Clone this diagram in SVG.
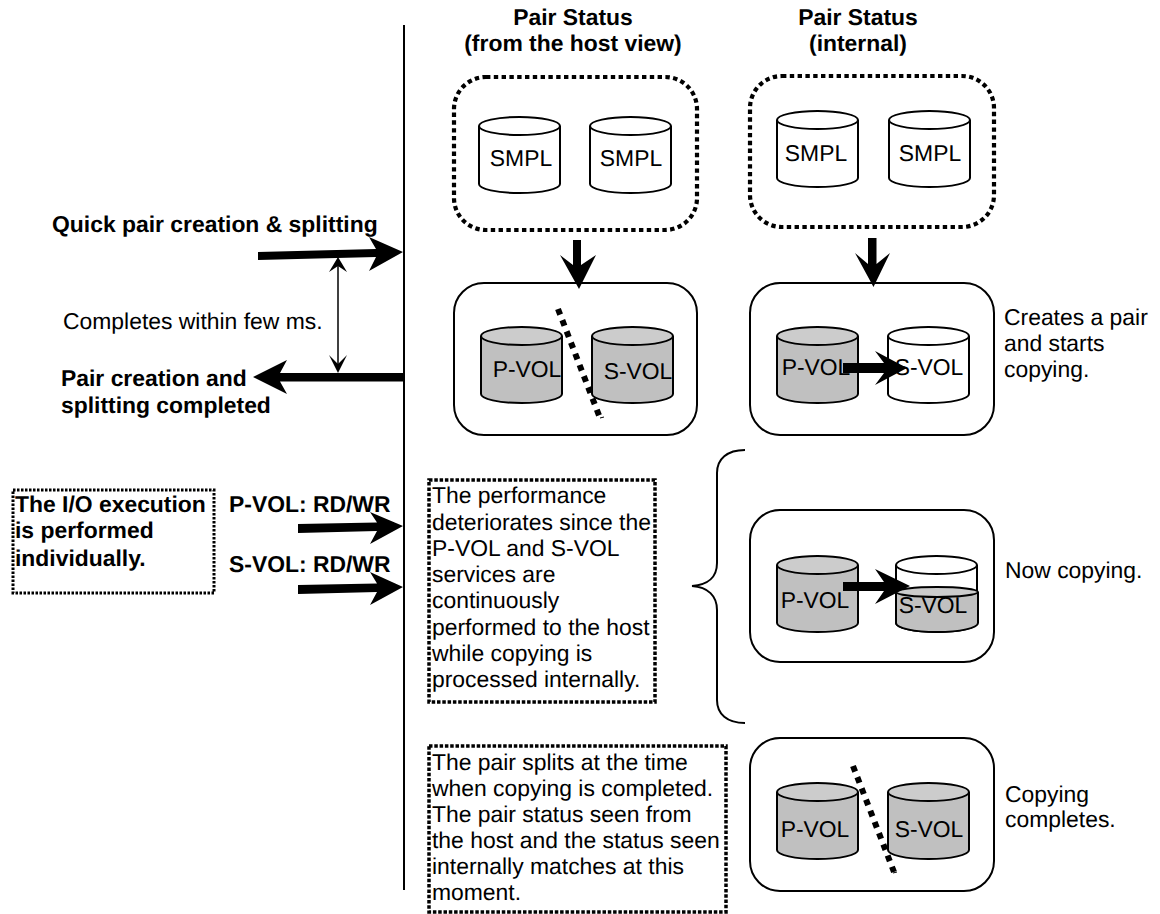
<svg xmlns="http://www.w3.org/2000/svg" width="1160" height="914" viewBox="0 0 1160 914">
<style>
text{font-family:"Liberation Sans",Arial,sans-serif;font-size:22.9px;fill:#000;text-rendering:geometricPrecision}
.b{font-weight:bold}
.m{text-anchor:middle}
.box{fill:#fff;stroke:#000;stroke-width:2}
.dot{fill:none;stroke:#000;stroke-width:4.200;stroke-dasharray:4.400 3.400}
.dot2{fill:none;stroke:#000;stroke-width:3.500;stroke-dasharray:3.500 1.800}
.dot3{fill:none;stroke:#000;stroke-width:3;stroke-dasharray:2.500 1.500}
.cut{fill:none;stroke:#000;stroke-width:6;stroke-dasharray:6 6}
.cyl{stroke:#000;stroke-width:2}
.w{fill:#fff}.g{fill:#c0c0c0}
.top{stroke:#000;stroke-width:2}
.ln{fill:none;stroke:#000;stroke-width:2}
</style>
<defs>
<g id="cw"><path class="cyl w" d="M0 9V67C0 72 18 76 40.500 76S81 72 81 67V9"/><ellipse class="top w" cx="40.500" cy="9" rx="40.500" ry="9"/></g>
<g id="cg"><path class="cyl g" d="M0 9V67C0 72 18 76 40.500 76S81 72 81 67V9"/><ellipse class="top" fill="#ccc" cx="40.500" cy="9" rx="40.500" ry="9"/></g>
</defs>
<g id="n1"><rect class="dot" x="454" y="77" width="243" height="153" rx="32"/>
<use href="#cw" x="479" y="117"/><use href="#cw" x="590" y="117"/>
<text class="m" x="521" y="166">SMPL</text><text class="m" x="631" y="166">SMPL</text></g>
<g id="n2"><rect class="dot" x="750" y="76" width="244" height="151" rx="32"/>
<use href="#cw" x="777" y="111"/><use href="#cw" x="889" y="111"/>
<text class="m" x="816" y="161">SMPL</text><text class="m" x="930" y="161">SMPL</text></g>
<g id="n3"><rect class="box" x="454" y="283" width="243" height="152" rx="30"/>
<use href="#cg" x="481" y="327"/><use href="#cg" x="592" y="327"/>
<text class="m" x="527" y="377">P-VOL</text><text class="m" x="638" y="379">S-VOL</text>
<path class="cut" d="M558 309L600 418"/><path d="M600 418L604 417" class="ln" style="stroke-width:1"/></g>
<g id="n4"><rect class="box" x="750" y="283" width="244" height="152" rx="30"/>
<use href="#cg" x="777" y="327"/><use href="#cw" x="888" y="327"/>
<text class="m" x="816" y="375">P-VOL</text><text class="m" x="929" y="375">S-VOL</text></g>
<g id="n5"><rect class="box" x="750" y="510" width="244" height="152" rx="30"/>
<use href="#cg" x="777" y="556"/><use href="#cw" x="896" y="556"/>
<path class="cyl g" d="M896 592V623C896 628 914 632 937 632S978 628 978 623V592"/><ellipse class="top" fill="#ccc" cx="937" cy="592" rx="41" ry="5"/>
<text class="m" x="815" y="608">P-VOL</text><text class="m" x="933" y="613">S-VOL</text></g>
<g id="n6"><rect class="box" x="750" y="738" width="244" height="153" rx="30"/>
<use href="#cg" x="777" y="783"/><use href="#cg" x="888" y="783"/>
<text class="m" x="815" y="837">P-VOL</text><text class="m" x="929" y="837">S-VOL</text>
<path class="cut" d="M853 766L894 872"/><path d="M893 873L897 872" class="ln" style="stroke-width:1"/></g>
<g id="h1"><text class="b m" x="573" y="25">Pair Status</text><text class="b m" x="573" y="51">(from the host view)</text></g>
<g id="h2"><text class="b m" x="858" y="25">Pair Status</text><text class="b m" x="858" y="51">(internal)</text></g>
<g id="l1"><text class="b" x="52" y="232">Quick pair creation &amp; splitting</text></g>
<g id="l2"><text x="63" y="329">Completes within few ms.</text></g>
<g id="l3"><text class="b" x="61" y="386">Pair creation and</text><text class="b" x="61" y="413">splitting completed</text></g>
<g id="l4"><text class="b" x="229" y="512">P-VOL: RD/WR</text></g>
<g id="l5"><text class="b" x="229" y="572">S-VOL: RD/WR</text></g>
<g id="n7"><rect class="dot3" x="13" y="490" width="201" height="103"/>
<text class="b" x="15" y="512">The I/O execution</text><text class="b" x="15" y="538">is performed</text><text class="b" x="15" y="566">individually.</text></g>
<g id="n8"><rect class="dot2" x="429" y="480" width="226" height="222"/>
<text x="432" y="503">The performance</text><text x="432" y="530">deteriorates since the</text><text x="432" y="556">P-VOL and S-VOL</text><text x="432" y="582">services are</text><text x="432" y="608">continuously</text><text x="432" y="635">performed to the host</text><text x="432" y="661">while copying is</text><text x="432" y="687">processed internally.</text></g>
<g id="n9"><rect class="dot2" x="429" y="746" width="297" height="166"/>
<text x="432" y="770">The pair splits at the time</text><text x="432" y="796">when copying is completed.</text><text x="432" y="822">The pair status seen from</text><text x="432" y="848">the host and the status seen</text><text x="432" y="874">internally matches at this</text><text x="432" y="900">moment.</text></g>
<g id="r1"><text x="1004" y="325">Creates a pair</text><text x="1004" y="351">and starts</text><text x="1004" y="377">copying.</text></g>
<g id="r2"><text x="1005" y="578">Now copying.</text></g>
<g id="r3"><text x="1005" y="802">Copying</text><text x="1005" y="827">completes.</text></g>
<g id="connectors">
<path class="ln" d="M404 25V890"/>
<path d="M258 252L376 249L369 237L403 252L369 271L376 257L258 260Z"/>
<path d="M404 373H280L287 360L253 377L287 394L280 381.500H404Z"/>
<path d="M298 524L377 522.500L370 512L403 526L370 544L377 531L298 533Z"/>
<path d="M298 585L377 583.500L370 572L403 587L370 605L377 592L298 594Z"/>
<path class="ln" d="M338 262V368" style="stroke-width:1.500"/>
<path d="M338 257L347 272L338 266L329 272Z"/>
<path d="M338 373L347 355L338 364L329 355Z"/>
<path d="M573 240H581V265L596 255L579 289L560 255L573 265Z"/>
<path d="M868 238H876.500V264L890 253L873.500 287L855 253L868 264Z"/>
<path d="M843 363H884L875 351L907 368L875 385L884 373L843 373Z"/>
<path d="M843 582H884L875 569L910 586L875 604L884 591H843Z"/>
<path class="ln" d="M745 450C727 450 717 459 717 473V563C717 577 708 585 692 586C708 587 717 596 717 610V700C717 714 727 723 745 723"/>
</g>
</svg>
